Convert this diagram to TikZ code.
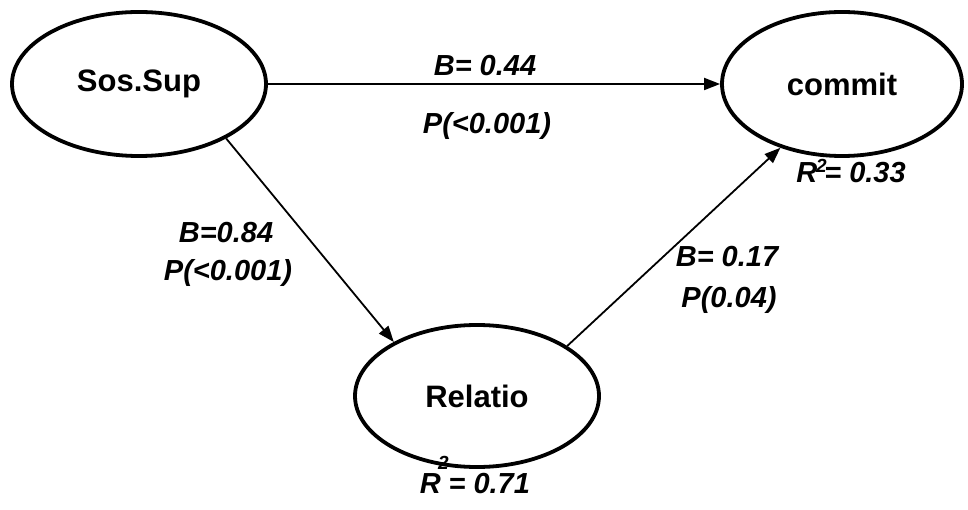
\documentclass[tikz,border=0pt]{standalone}
\usepackage{fontspec}
\setmainfont{Liberation Sans}
\usetikzlibrary{shapes.geometric,arrows.meta}
\tikzset{
  construct/.style={ellipse,draw,line width=3.8pt,inner sep=0pt,font=\fontsize{31}{36}\selectfont\bfseries},
  coef/.style={anchor=base,inner sep=0pt,font=\fontsize{29}{34}\selectfont\bfseries\itshape},
  path/.style={line width=1.8pt,-{Triangle[length=16pt,width=12pt]}}
}
\newcommand{\supii}{{\fontsize{19}{20}\selectfont 2}}
\begin{document}
\begin{tikzpicture}[x=1pt,y=-1pt]
\useasboundingbox (0,0) rectangle (968,510);
\node[construct,minimum width=254pt,minimum height=144pt] (sos) at (139,84) {Sos.Sup};
\node[construct,minimum width=240pt,minimum height=144pt] (commit) at (842,84) {commit};
\node[construct,minimum width=244pt,minimum height=142pt] (relatio) at (477,396) {Relatio};
\draw[path] (sos) -- (commit);
\draw[path] (sos.-32) -- (relatio.147);
\draw[path] (relatio.29) -- (commit.226);
\node[coef] (b1) at (485,76) {B= 0.44};
\node[coef] (p1) at (487,134) {P(<0.001)};
\node[coef] (b2) at (226,243) {B=0.84};
\node[coef] (p2) at (228,280) {P(<0.001)};
\node[coef] (b3) at (727,267) {B= 0.17};
\node[coef] (p3) at (729,308) {P(0.04)};
\node[coef] (r1) at (851,183) {R\kern-0.04em\raisebox{0.36em}{\supii}\kern-0.08em= 0.33};
\node[coef] (r2) at (475,493) {R\kern-0.1em\raisebox{0.8em}{\supii}\kern0.0em= 0.71};
\end{tikzpicture}
\end{document}
